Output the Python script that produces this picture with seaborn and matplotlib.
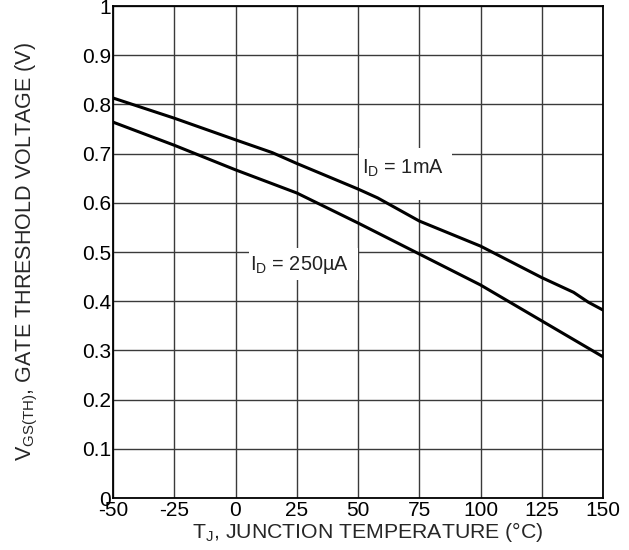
import matplotlib
matplotlib.use("Agg")
import matplotlib.pyplot as plt
import seaborn as sns
import pandas as pd
from matplotlib.patches import Rectangle

# Data
temp_1mA = [-50, -25, 0, 15, 25, 50, 58, 75, 100, 125, 138, 144, 150]
vth_1mA = [0.813, 0.772, 0.728, 0.702, 0.680, 0.628, 0.610, 0.563, 0.512, 0.448, 0.418, 0.398, 0.382]
temp_250uA = [-50, -25, 0, 25, 50, 75, 100, 125, 150]
vth_250uA = [0.764, 0.717, 0.667, 0.620, 0.559, 0.496, 0.433, 0.360, 0.287]

x_ticks = [-50, -25, 0, 25, 50, 75, 100, 125, 150]
x_tick_labels = ["-50", "-25", "0", "25", "50", "75", "100", "125", "150"]
y_ticks = [0, 0.1, 0.2, 0.3, 0.4, 0.5, 0.6, 0.7, 0.8, 0.9, 1.0]
y_tick_labels = ["0", "0.1", "0.2", "0.3", "0.4", "0.5", "0.6", "0.7", "0.8", "0.9", "1"]

sns.set_style("white")
plt.rcParams['font.family'] = ['Liberation Sans', 'DejaVu Sans']
plt.rcParams['mathtext.fontset'] = 'custom'
plt.rcParams['mathtext.rm'] = 'Liberation Sans'

fig = plt.figure(figsize=(6.29, 5.5), dpi=100)
ax = fig.add_axes([113/629, 52/550, 490/629, 492/550])

df1 = pd.DataFrame({"T": temp_1mA, "V": vth_1mA})
df2 = pd.DataFrame({"T": temp_250uA, "V": vth_250uA})
sns.lineplot(data=df1, x="T", y="V", ax=ax, color="black", lw=2.2, zorder=3)
sns.lineplot(data=df2, x="T", y="V", ax=ax, color="black", lw=2.2, zorder=3)

ax.set_xlim(-50, 150)
ax.set_ylim(0, 1)
ax.set_xticks(x_ticks)
ax.set_xticklabels(x_tick_labels)
ax.set_yticks(y_ticks)
ax.set_yticklabels(y_tick_labels)
ax.tick_params(axis='both', length=0, labelsize=15, colors='black')
ax.tick_params(axis='x', pad=2.5)
ax.tick_params(axis='y', pad=1.5)

ax.set_axisbelow(True)
ax.grid(True, color="#3a3a3a", lw=1.0)
for s in ax.spines.values():
    s.set_visible(True)
    s.set_color("black")
    s.set_linewidth(1.3)

ax.set_xlabel(r"T$_{\mathregular{J}}$, JUNCTION TEMPERATURE (°C)", fontsize=15.3, labelpad=-1)
ax.xaxis.set_label_coords(0.52, -0.045)
ax.set_ylabel(r"V$_{\mathregular{GS(TH)}}$, GATE THRESHOLD VOLTAGE (V)", fontsize=15.5, labelpad=30)

# label boxes (white background hiding grid)
ax.add_patch(Rectangle((50.3, 0.606), 38.1, 0.106, facecolor="white", edgecolor="none", zorder=1.5))
ax.add_patch(Rectangle((5.6, 0.443), 44.2, 0.066, facecolor="white", edgecolor="none", zorder=1.5))
ax.text(51.6, 0.671, r"I$_{\mathregular{D}}$ = 1mA", fontsize=14.3, color="#222222",
        ha="left", va="center", zorder=2)
ax.text(6.0, 0.4736, r"I$_{\mathregular{D}}$ = 250µA", fontsize=14.3, color="#222222",
        ha="left", va="center", zorder=2)

fig.savefig("out.png", dpi=100)
